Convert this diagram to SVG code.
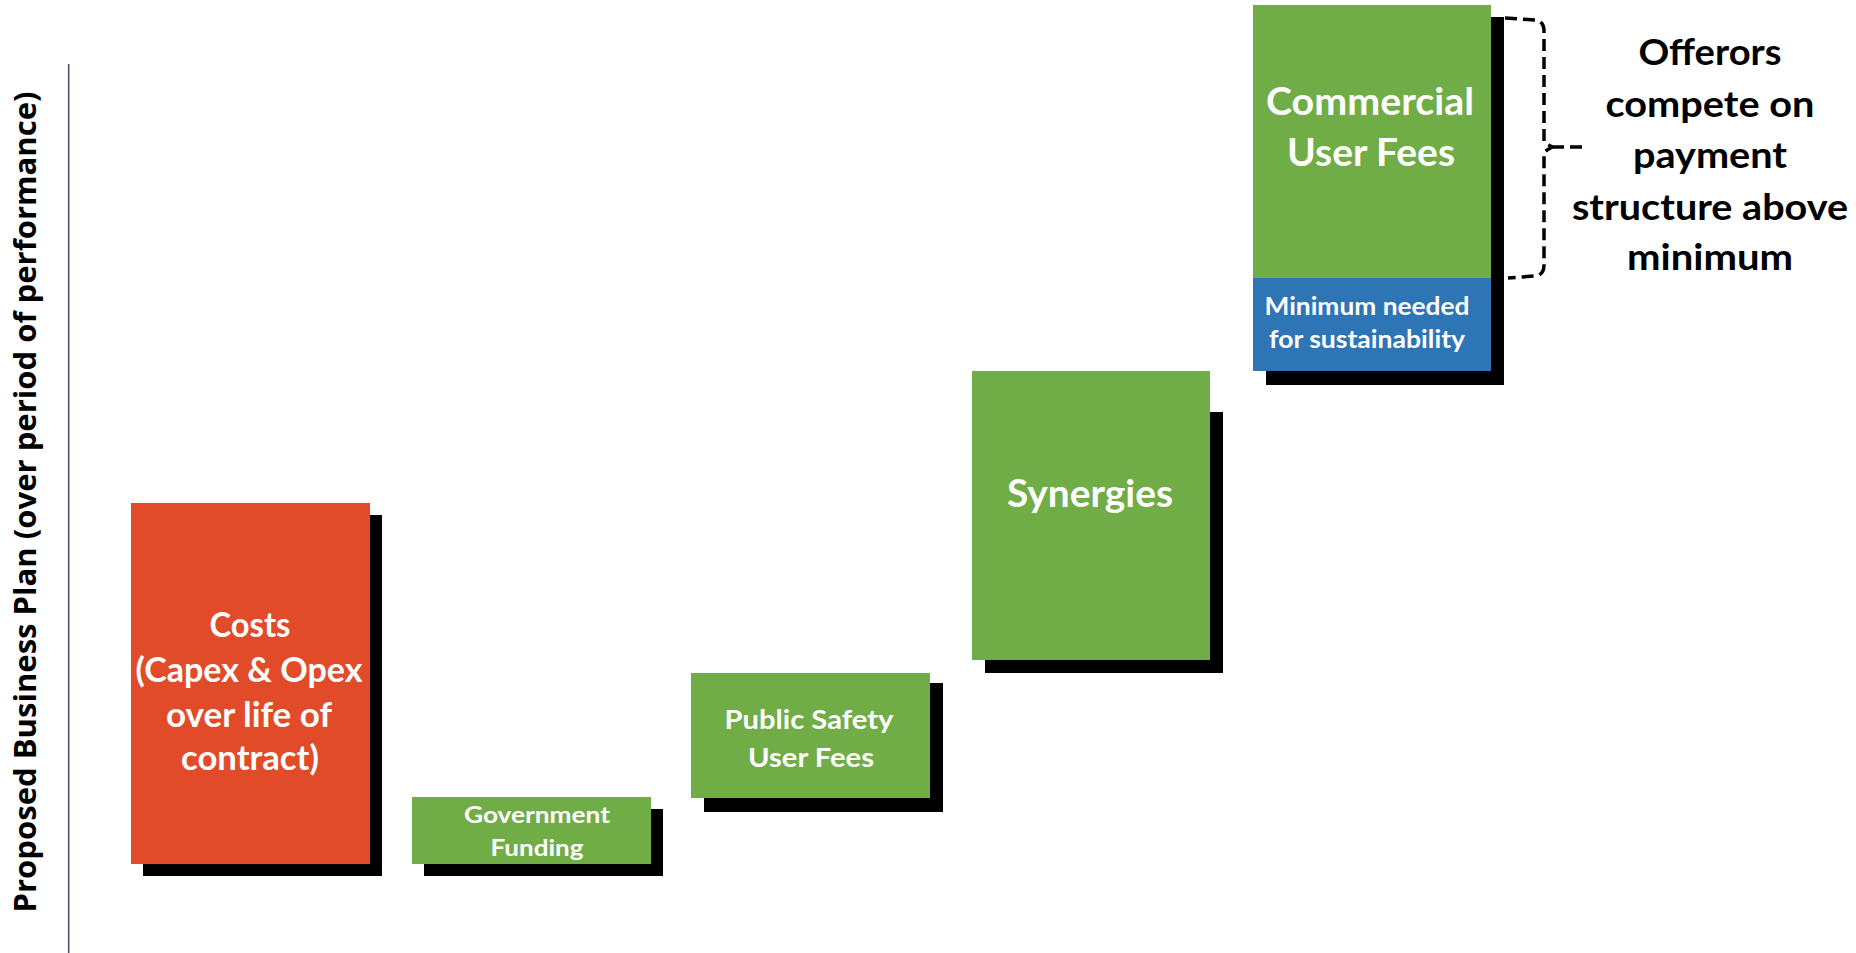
<svg xmlns="http://www.w3.org/2000/svg" width="1856" height="953" viewBox="0 0 1856 953">
<style>
.sh{fill:#000}
.g{fill:#70AD47}
.r{fill:#E14B29}
.b{fill:#2E75B6}
.t{font-family:Lato,"Open Sans","Liberation Sans",sans-serif;font-weight:bold;fill:#fff;text-anchor:middle}
.k{font-family:Lato,"Open Sans","Liberation Sans",sans-serif;font-weight:bold;fill:#000;text-anchor:middle;font-size:37px}
.ax{font-family:"Open Sans","Noto Sans","Liberation Sans",sans-serif;font-weight:bold;fill:#000;text-anchor:middle;font-size:31px}
</style>
<rect width="1856" height="953" fill="#fff"/>
<g id="axis">
<line x1="68.7" y1="64" x2="68.7" y2="953" stroke="#4a5566" stroke-width="1.6"/>
<text class="ax" transform="translate(36,502) rotate(-90)" x="0" y="0" textLength="821" lengthAdjust="spacingAndGlyphs">Proposed Business Plan (over period of performance)</text>
</g>
<g id="costs">
<rect class="sh" x="143" y="515" width="239" height="361"/>
<rect class="r" x="131" y="503" width="239" height="361"/>
<text class="t" font-size="34" x="250" y="637" textLength="81" lengthAdjust="spacingAndGlyphs">Costs</text>
<text class="t" font-size="34" x="249" y="682" textLength="227" lengthAdjust="spacingAndGlyphs">(Capex &amp; Opex</text>
<text class="t" font-size="34" x="249" y="727" textLength="166" lengthAdjust="spacingAndGlyphs">over life of</text>
<text class="t" font-size="34" x="250" y="770" textLength="138" lengthAdjust="spacingAndGlyphs">contract)</text>
</g>
<g id="government">
<rect class="sh" x="424" y="809" width="239" height="67"/>
<rect class="g" x="412" y="797" width="239" height="67"/>
<text class="t" font-size="22" x="537" y="823" textLength="146" lengthAdjust="spacingAndGlyphs">Government</text>
<text class="t" font-size="22" x="537" y="856" textLength="93" lengthAdjust="spacingAndGlyphs">Funding</text>
</g>
<g id="publicsafety">
<rect class="sh" x="704" y="683" width="239" height="129"/>
<rect class="g" x="691" y="673" width="239" height="125"/>
<text class="t" font-size="27" x="809" y="729" textLength="169" lengthAdjust="spacingAndGlyphs">Public Safety</text>
<text class="t" font-size="27" x="811" y="767" textLength="126" lengthAdjust="spacingAndGlyphs">User Fees</text>
</g>
<g id="synergies">
<rect class="sh" x="985" y="412" width="238" height="261"/>
<rect class="g" x="972" y="371" width="238" height="289"/>
<text class="t" font-size="38" x="1090" y="507" textLength="166" lengthAdjust="spacingAndGlyphs">Synergies</text>
</g>
<g id="commercial">
<rect class="sh" x="1266" y="17" width="238" height="368"/>
<rect class="g" x="1253" y="5" width="238" height="273"/>
<rect class="b" x="1253" y="278" width="238" height="93"/>
<text class="t" font-size="38" x="1370" y="115" textLength="208" lengthAdjust="spacingAndGlyphs">Commercial</text>
<text class="t" font-size="38" x="1371" y="166" textLength="168" lengthAdjust="spacingAndGlyphs">User Fees</text>
<text class="t" font-size="24" x="1367" y="315" textLength="205" lengthAdjust="spacingAndGlyphs">Minimum needed</text>
<text class="t" font-size="24" x="1367" y="348" textLength="196" lengthAdjust="spacingAndGlyphs">for sustainability</text>
</g>
<g id="connectors" fill="none" stroke="#000" stroke-width="3.5" stroke-dasharray="12 6">
<path d="M1505,18 L1535,20 Q1544,21 1544,31 L1544,142 L1552,147 L1544,152 L1544,265 Q1544,275 1535,276 L1508,278"/>
<path d="M1552,147 L1584,147"/>
</g>
<g id="offerors">
<text class="k" x="1710" y="65" textLength="143" lengthAdjust="spacingAndGlyphs">Offerors</text>
<text class="k" x="1710" y="117" textLength="209" lengthAdjust="spacingAndGlyphs">compete on</text>
<text class="k" x="1710" y="168" textLength="154" lengthAdjust="spacingAndGlyphs">payment</text>
<text class="k" x="1710" y="220" textLength="276" lengthAdjust="spacingAndGlyphs">structure above</text>
<text class="k" x="1710" y="270" textLength="166" lengthAdjust="spacingAndGlyphs">minimum</text>
</g>
</svg>
